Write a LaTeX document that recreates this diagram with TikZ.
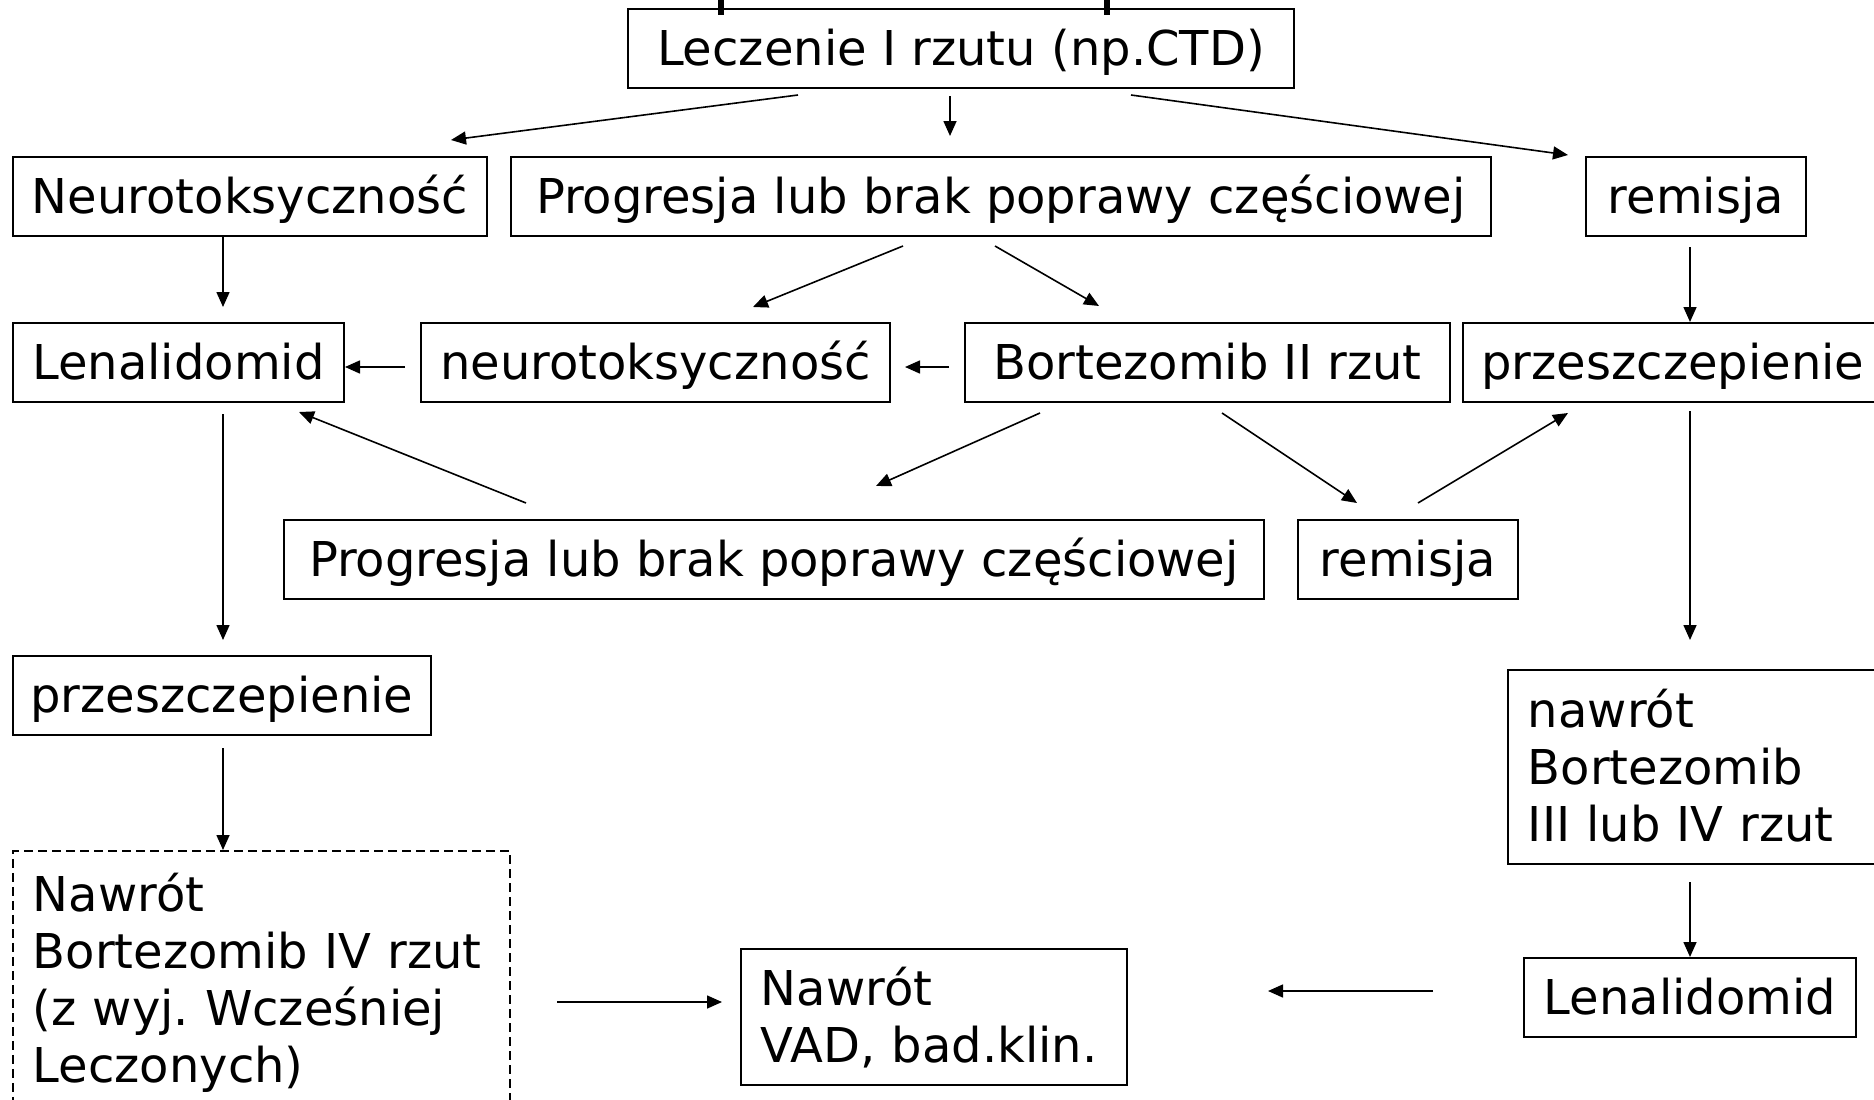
\documentclass[tikz,border=0pt]{standalone}
\usepackage{fontspec}
\setmainfont{DejaVu Sans}
\usetikzlibrary{arrows.meta}
\frenchspacing
\tikzset{
  boxfont/.style={font=\fontsize{48}{57}\selectfont},
  box/.style={draw, line width=1.8pt, boxfont, inner xsep=0pt, inner ysep=0pt,
    minimum height=79pt, text height=45pt, text depth=10pt, anchor=north west, align=center},
  mbox/.style={draw, line width=1.8pt, boxfont, inner xsep=20pt, inner ysep=0pt,
    text height=45pt, align=left, anchor=north west},
  arr/.style={-{Triangle[length=15pt,width=13pt]}, line width=1.6pt},
  stub/.style={line width=6pt},
}
\begin{document}
\begin{tikzpicture}[x=1pt, y=-1pt]
\useasboundingbox (0,0) rectangle (1874,1100);
\fill[white] (0,0) rectangle (1874,1100);

% boxes
\node[box, minimum width=666pt] (lecz) at (627,8) {Leczenie I rzutu (np.CTD)};
\node[box, minimum width=474pt] (neuA) at (12,156) {Neurotoksyczność};
\node[box, minimum width=980pt] (progA) at (510,156) {Progresja lub brak poprawy częściowej};
\node[box, minimum width=220pt] (remA) at (1585,156) {remisja};
\node[box, minimum width=331pt] (lenA) at (12,322) {Lenalidomid};
\node[box, minimum width=469pt] (neuB) at (420,322) {neurotoksyczność};
\node[box, minimum width=485pt] (bort) at (964,322) {Bortezomib II rzut};
\node[box, minimum width=420pt] (przR) at (1462,322) {przeszczepienie};
\node[box, minimum width=980pt] (progB) at (283,519) {Progresja lub brak poprawy częściowej};
\node[box, minimum width=220pt] (remB) at (1297,519) {remisja};
\node[box, minimum width=418pt] (przL) at (12,655) {przeszczepienie};
\node[box, minimum width=332pt] (lenR) at (1523,957) {Lenalidomid};
\node[mbox, dash pattern=on 9pt off 5pt, text width=457pt, minimum height=258pt, text depth=181pt] (nawL) at (12,850)
  {\mbox{Nawrót}\\\mbox{Bortezomib IV rzut}\\\mbox{(z wyj. Wcześniej}\\\mbox{Leczonych)}};
\node[mbox, text width=335pt, minimum height=194pt, text depth=124pt] (nawR) at (1507,669)
  {\mbox{nawrót}\\\mbox{Bortezomib}\\\mbox{III lub IV rzut}};
\node[mbox, text width=346pt, minimum height=136pt, text depth=67pt] (vad) at (740,948)
  {\mbox{Nawrót}\\\mbox{VAD, bad.klin.}};

% stubs at top
\coordinate (s1a) at (721,0); \coordinate (s1b) at (721,15);
\coordinate (s2a) at (1107,0); \coordinate (s2b) at (1107,15);
\draw[stub] (s1a) -- (s1b);
\draw[stub] (s2a) -- (s2b);

% arrow end points
\coordinate (a1s) at (798,95);   \coordinate (a1e) at (451,140);
\coordinate (a2s) at (950,96);   \coordinate (a2e) at (950,136);
\coordinate (a3s) at (1131,95);  \coordinate (a3e) at (1568,155);
\coordinate (a4s) at (223,236);  \coordinate (a4e) at (223,307);
\coordinate (a5s) at (903,246);  \coordinate (a5e) at (753,307);
\coordinate (a6s) at (995,246);  \coordinate (a6e) at (1099,306);
\coordinate (a7s) at (1690,247); \coordinate (a7e) at (1690,322);
\coordinate (a8s) at (405,367);  \coordinate (a8e) at (345,367);
\coordinate (a9s) at (949,367);  \coordinate (a9e) at (905,367);
\coordinate (a10s) at (223,414); \coordinate (a10e) at (223,640);
\coordinate (a11s) at (526,503); \coordinate (a11e) at (299,412);
\coordinate (a12s) at (1040,413);\coordinate (a12e) at (876,486);
\coordinate (a13s) at (1222,413);\coordinate (a13e) at (1357,503);
\coordinate (a14s) at (1418,503);\coordinate (a14e) at (1568,413);
\coordinate (a15s) at (1690,411);\coordinate (a15e) at (1690,640);
\coordinate (a16s) at (223,748); \coordinate (a16e) at (223,850);
\coordinate (a17s) at (1690,882);\coordinate (a17e) at (1690,957);
\coordinate (a18s) at (1433,991);\coordinate (a18e) at (1268,991);
\coordinate (a19s) at (557,1002);\coordinate (a19e) at (722,1002);

\draw[arr] (a1s) -- (a1e);
\draw[arr] (a2s) -- (a2e);
\draw[arr] (a3s) -- (a3e);
\draw[arr] (a4s) -- (a4e);
\draw[arr] (a5s) -- (a5e);
\draw[arr] (a6s) -- (a6e);
\draw[arr] (a7s) -- (a7e);
\draw[arr] (a8s) -- (a8e);
\draw[arr] (a9s) -- (a9e);
\draw[arr] (a10s) -- (a10e);
\draw[arr] (a11s) -- (a11e);
\draw[arr] (a12s) -- (a12e);
\draw[arr] (a13s) -- (a13e);
\draw[arr] (a14s) -- (a14e);
\draw[arr] (a15s) -- (a15e);
\draw[arr] (a16s) -- (a16e);
\draw[arr] (a17s) -- (a17e);
\draw[arr] (a18s) -- (a18e);
\draw[arr] (a19s) -- (a19e);
\end{tikzpicture}
\end{document}
